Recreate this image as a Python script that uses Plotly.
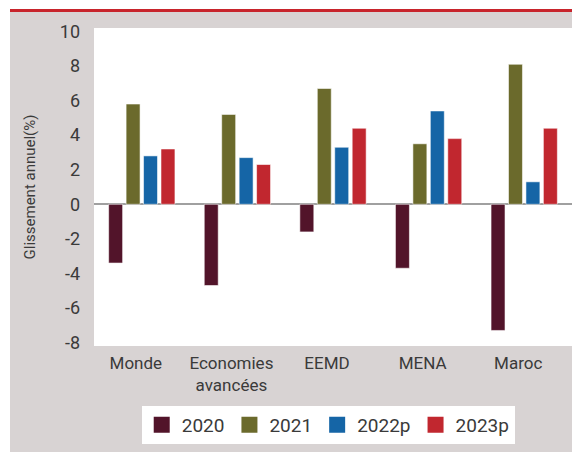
import plotly.graph_objects as go

categories = ["Monde", "Economies<br>avancées", "EEMD", "MENA", "Maroc"]
series_names = ["2020", "2021", "2022p", "2023p"]
v2020 = [-3.4, -4.7, -1.6, -3.7, -7.3]
v2021 = [5.8, 5.2, 6.7, 3.5, 8.1]
v2022 = [2.8, 2.7, 3.3, 5.4, 1.3]
v2023 = [3.2, 2.3, 4.4, 3.8, 4.4]
colors = ["#52142a", "#6b6a2c", "#1565a6", "#c1272f"]
y_tickvals = [-8, -6, -4, -2, 0, 2, 4, 6, 8, 10]
y_ticktext = ["-8", "-6", "-4", "-2", "0", "2", "4", "6", "8", "10"]

# page body has an 8px margin; figure coordinates below are relative to it
W, H = 580, 452
ML, MR, MT, MB = 86, 16, 20, 114
PW, PH = W - ML - MR, H - MT - MB

def px_x(p):
    return (p - ML) / PW

def px_y(p):
    return (H - MB - p) / PH

FONT = "Roboto, sans-serif"
TXT = "#3a3a3a"

fig = go.Figure()
for name, vals, col in zip(series_names, [v2020, v2021, v2022, v2023], colors):
    fig.add_trace(go.Bar(
        x=categories, y=vals, name=name, showlegend=False,
        marker=dict(color=col, line=dict(color="rgba(255,255,255,0.55)", width=1)),
    ))
for name, col in zip(series_names, colors):
    fig.add_trace(go.Scatter(
        x=[None], y=[None], mode="markers", name=name,
        marker=dict(symbol="square", size=16, color=col),
    ))

shapes = [
    dict(type="rect", xref="paper", yref="paper", x0=px_x(-5), x1=px_x(W + 5),
         y0=px_y(1), y1=px_y(-5), fillcolor="white", line_width=0, layer="below"),
    dict(type="rect", xref="paper", yref="paper", x0=px_x(-5), x1=px_x(2),
         y0=px_y(H + 5), y1=px_y(-5), fillcolor="white", line_width=0, layer="below"),
    dict(type="rect", xref="paper", yref="paper", x0=px_x(2), x1=px_x(W + 5),
         y0=px_y(4), y1=px_y(1), fillcolor="#c8242c", line_width=0, layer="below"),
]

fig.update_layout(
    width=W, height=H,
    margin=dict(l=ML, r=MR, t=MT, b=MB, autoexpand=False),
    paper_bgcolor="#d8d3d3", plot_bgcolor="white",
    font=dict(family=FONT, size=17, color=TXT),
    barmode="group", bargap=0.27, bargroupgap=0.2,
    shapes=shapes,
    legend=dict(orientation="h", x=0.49, xanchor="center", y=px_y(398), yanchor="top",
                bgcolor="white", font=dict(size=19, color=TXT), itemwidth=30,
                tracegroupgap=0),
)
fig.update_xaxes(showgrid=False, showline=False, ticks="", ticklabelshift=-6,
                 ticklabelstandoff=5,
                 tickfont=dict(size=17, color=TXT), fixedrange=True)
fig.update_yaxes(range=[-8.2, 10.2], tickvals=y_tickvals, ticktext=y_ticktext,
                 showgrid=False, showline=False, ticks="", zeroline=True,
                 zerolinecolor="#a0a0a0", zerolinewidth=1.5, ticklabelstandoff=13,
                 tickfont=dict(size=18, color=TXT),
                 title=dict(text="Glissement annuel(%)", standoff=20,
                            font=dict(size=15, color=TXT)),
                 fixedrange=True)

fig.write_html("out.html")
